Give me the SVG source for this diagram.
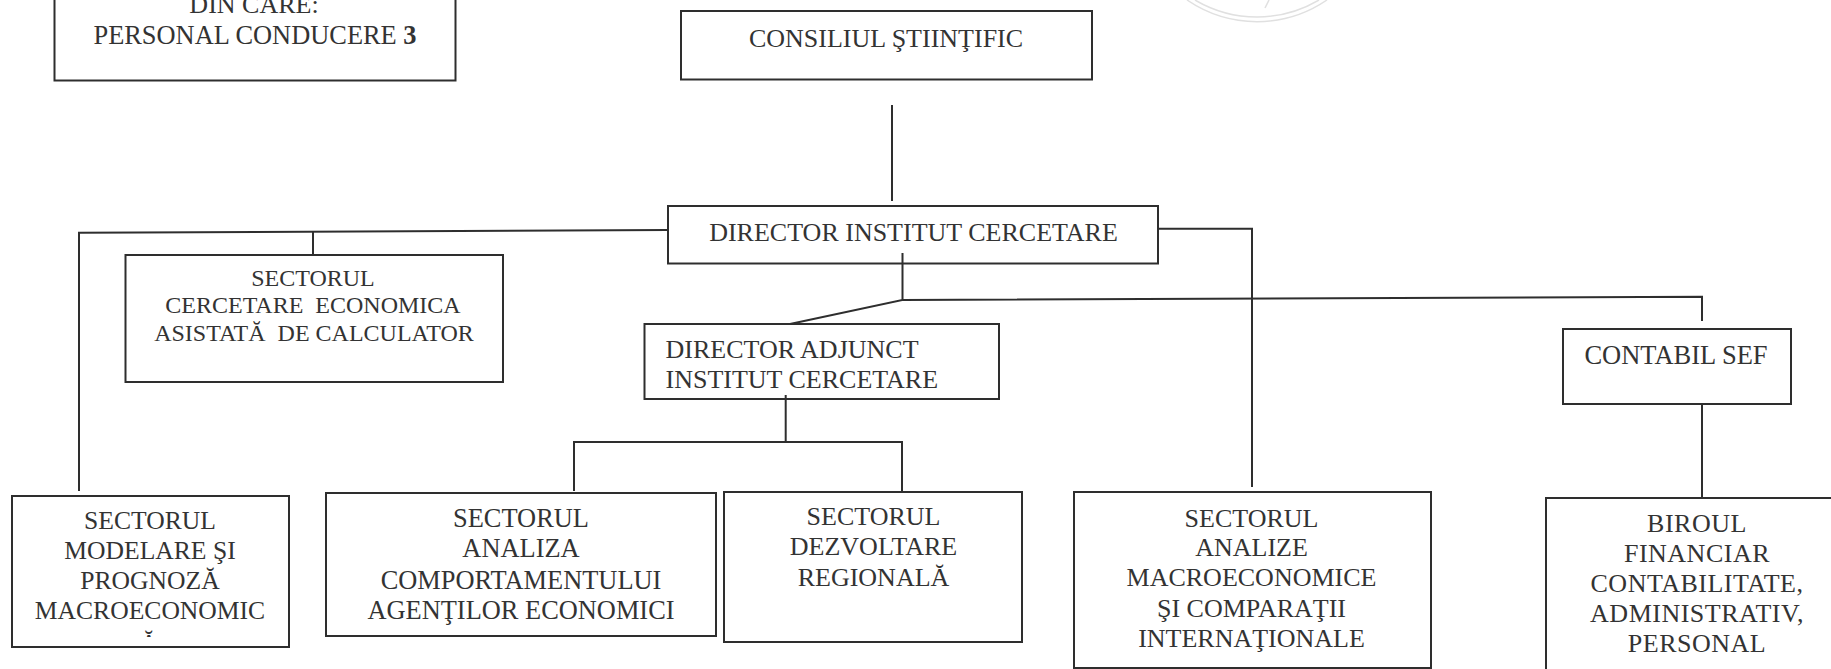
<svg xmlns="http://www.w3.org/2000/svg" width="1831" height="669" viewBox="0 0 1831 669">
<defs><clipPath id="tailclip"><rect x="130" y="628" width="40" height="9"/></clipPath></defs>
<style>
.box{fill:none;stroke:#2e2e2e;stroke-width:2}
.ln{fill:none;stroke:#2e2e2e;stroke-width:2}
.stamp{fill:none;stroke:#e0e0e0;stroke-width:1.5}
text{font-family:"Liberation Serif","Times New Roman",serif;font-size:26px;fill:#333;text-anchor:middle}
.l{text-anchor:start}
.s24{font-size:24px}
.s256{font-size:25.6px}
.s264{font-size:26.4px}
.s265{font-size:26.5px}
.wide{letter-spacing:.5px}
</style>
<rect width="1831" height="669" fill="#fff"/>
<g id="stamp">
<path class="stamp" d="M1187 0A124 124 0 0 0 1327 0"/>
<path class="stamp" d="M1195 0A122 122 0 0 0 1319 0"/>
<path class="stamp" d="M1269 0L1265 8"/>
</g>
<g id="connectors">
<path class="ln" d="M892 105V201"/>
<path class="ln" d="M668 230L79 232.7V491"/>
<path class="ln" d="M313 231V255"/>
<path class="ln" d="M1158 228.7H1252V487"/>
<path class="ln" d="M902.5 253V300L790 324"/>
<path class="ln" d="M902.5 300L1702 296.7V321"/>
<path class="ln" d="M785.7 395V441.7"/>
<path class="ln" d="M574 491V442H902V491"/>
<path class="ln" d="M1702 404V498"/>
</g>
<g id="n-personal"><rect class="box" x="54.5" y="-20" width="401" height="100.5"/>
<text x="254" y="12.7">DIN CARE:</text><text class="s264" x="255" y="43.5">PERSONAL CONDUCERE <tspan font-weight="700">3</tspan></text></g>
<g id="n-consiliul"><rect class="box" x="681" y="11" width="411" height="68.5"/><text x="886" y="46.7">CONSILIUL ŞTIINŢIFIC</text></g>
<g id="n-director"><rect class="box" x="668" y="206" width="490" height="57.5"/><text x="913.5" y="240.7">DIRECTOR INSTITUT CERCETARE</text></g>
<g id="n-cercetare"><rect class="box" x="125.5" y="255" width="377.5" height="127"/>
<text class="s24" x="313" y="286">SECTORUL</text><text class="s24" x="313" y="313">CERCETARE&#160; ECONOMICA</text><text class="s24" x="314" y="341">ASISTATĂ&#160; DE CALCULATOR</text></g>
<g id="n-adjunct"><rect class="box" x="644.5" y="324" width="354.5" height="75"/>
<text class="l" x="665.5" y="358">DIRECTOR ADJUNCT</text><text class="l" x="665.5" y="388">INSTITUT CERCETARE</text></g>
<g id="n-contabil"><rect class="box" x="1563" y="329" width="228" height="75"/><text class="s265" x="1676" y="364">CONTABIL SEF</text></g>
<g id="n-modelare"><rect class="box" x="12" y="496" width="277" height="151"/>
<text class="s256" x="150" y="529.3">SECTORUL</text><text class="s256" x="150" y="559">MODELARE ŞI</text><text class="s256" x="150" y="589">PROGNOZĂ</text><text class="s256" x="150" y="619">MACROECONOMIC</text>
<text class="s256" x="149" y="652" clip-path="url(#tailclip)">Ă</text></g>
<g id="n-analiza"><rect class="box" x="326" y="493" width="390" height="143"/>
<text class="s264" x="521" y="527">SECTORUL</text><text class="s264" x="521" y="557">ANALIZA</text><text class="s264" x="521" y="589">COMPORTAMENTULUI</text><text class="s264" x="521" y="619">AGENŢILOR ECONOMICI</text></g>
<g id="n-dezvoltare"><rect class="box" x="724" y="492" width="298" height="150"/>
<text x="873.5" y="525">SECTORUL</text><text x="873.5" y="555">DEZVOLTARE</text><text x="873.5" y="585.7">REGIONALĂ</text></g>
<g id="n-analize"><rect class="box" x="1074" y="492" width="357" height="176"/>
<text x="1251.5" y="526.7">SECTORUL</text><text x="1251.5" y="556">ANALIZE</text><text x="1251.5" y="586">MACROECONOMICE</text><text x="1251.5" y="616.7">ŞI COMPARAŢII</text><text x="1251.5" y="646.7">INTERNAŢIONALE</text></g>
<g id="n-biroul"><path class="box" d="M1546 669V498H1831"/>
<text class="wide" x="1697" y="531.7">BIROUL</text><text class="wide" x="1697" y="561.7">FINANCIAR</text><text class="wide" x="1697" y="591.7">CONTABILITATE,</text><text class="wide" x="1697" y="621.7">ADMINISTRATIV,</text><text class="wide" x="1697" y="651.7">PERSONAL</text></g>
</svg>
